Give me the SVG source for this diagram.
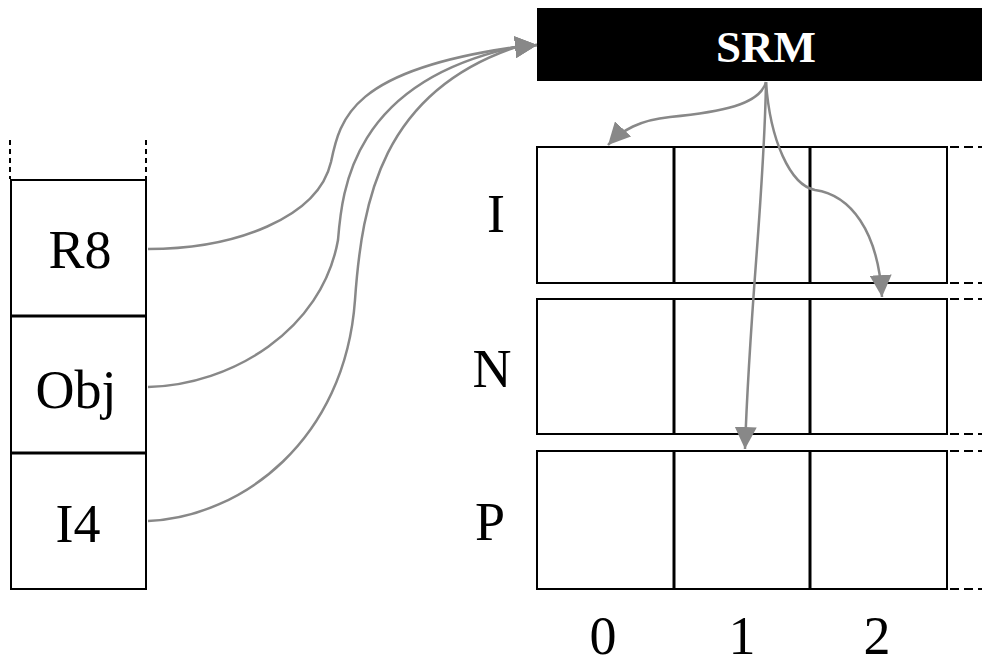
<svg xmlns="http://www.w3.org/2000/svg" width="982" height="666" viewBox="0 0 982 666">
  <style>
    .cell { fill: #fff; stroke: #000; stroke-width: 2; }
    .sep { stroke: #000; stroke-width: 3; }
    .dash { stroke: #000; stroke-width: 2; stroke-dasharray: 9 5; fill: none; }
    .vdash { stroke: #000; stroke-width: 2; stroke-dasharray: 5 4; fill: none; }
    .lbl { font-family: "Liberation Serif", "Times New Roman", serif; font-size: 54px; fill: #000; text-anchor: middle; }
    .head { font-family: "Liberation Serif", "Times New Roman", serif; font-size: 45px; font-weight: bold; fill: #fff; text-anchor: middle; }
    .conn { fill: none; stroke: #888; stroke-width: 2.5; }
  </style>
  <defs>
    <marker id="arrow" markerUnits="userSpaceOnUse" markerWidth="22" markerHeight="22" viewBox="0 0 22 22" refX="22" refY="11" orient="auto">
      <path d="M0,0 L22,11 L0,22 z" fill="#888"/>
    </marker>
  </defs>

  <!-- operand stack -->
  <g id="stack">
    <line class="vdash" x1="10" y1="140" x2="10" y2="179"/>
    <line class="vdash" x1="146" y1="140" x2="146" y2="179"/>
    <g id="slot-r8">
      <rect class="cell" x="11" y="180" width="135" height="136"/>
      <text class="lbl" x="80" y="268">R8</text>
    </g>
    <g id="slot-obj">
      <rect class="cell" x="11" y="316" width="135" height="137"/>
      <text class="lbl" x="76" y="408">Obj</text>
    </g>
    <g id="slot-i4">
      <rect class="cell" x="11" y="453" width="135" height="136"/>
      <text class="lbl" x="78" y="542">I4</text>
    </g>
    <line class="sep" x1="11" y1="316" x2="146" y2="316"/>
    <line class="sep" x1="11" y1="453" x2="146" y2="453"/>
  </g>

  <!-- SRM header -->
  <g id="srm">
    <rect x="537" y="8" width="445" height="73" fill="#000"/>
    <text class="head" x="766" y="62">SRM</text>
  </g>

  <!-- register table -->
  <g id="table">
    <g id="row-i">
      <rect class="cell" x="537" y="147" width="410" height="136"/>
      <text class="lbl" x="496" y="232">I</text>
    </g>
    <g id="row-n">
      <rect class="cell" x="537" y="299" width="410" height="135"/>
      <text class="lbl" x="492" y="387">N</text>
    </g>
    <g id="row-p">
      <rect class="cell" x="537" y="451" width="410" height="138"/>
      <text class="lbl" x="490" y="540">P</text>
    </g>
    <g id="columns">
      <line class="sep" x1="674" y1="147" x2="674" y2="283"/>
      <line class="sep" x1="810" y1="147" x2="810" y2="283"/>
      <line class="sep" x1="674" y1="299" x2="674" y2="434"/>
      <line class="sep" x1="810" y1="299" x2="810" y2="434"/>
      <line class="sep" x1="674" y1="451" x2="674" y2="589"/>
      <line class="sep" x1="810" y1="451" x2="810" y2="589"/>
    </g>
    <g id="continuation">
      <line class="dash" x1="950" y1="147" x2="982" y2="147"/>
      <line class="dash" x1="950" y1="283" x2="982" y2="283"/>
      <line class="dash" x1="950" y1="299" x2="982" y2="299"/>
      <line class="dash" x1="950" y1="434" x2="982" y2="434"/>
      <line class="dash" x1="950" y1="451" x2="982" y2="451"/>
      <line class="dash" x1="950" y1="589" x2="982" y2="589"/>
    </g>
    <g id="indices">
      <text class="lbl" x="603" y="654">0</text>
      <text class="lbl" x="742" y="654">1</text>
      <text class="lbl" x="877" y="654">2</text>
    </g>
  </g>

  <!-- connectors -->
  <g id="connectors">
    <path class="conn" d="M148,249 C235,249 318,218 331,162 C340,118 352,70 516,47 L537,45" marker-end="url(#arrow)"/>
    <path class="conn" d="M148,387 C232,385 322,330 338,240 C342,190 352,82 516,47 L537,45" marker-end="url(#arrow)"/>
    <path class="conn" d="M148,521 C242,517 345,440 355,300 C362,200 382,92 516,47 L537,45" marker-end="url(#arrow)"/>
    <path class="conn" d="M766,82 C760,105 720,112 670,117 C640,120 622,130 608,145" marker-end="url(#arrow)"/>
    <path class="conn" d="M766,82 C764,200 750,300 745,449" marker-end="url(#arrow)"/>
    <path class="conn" d="M766,82 C770,140 790,185 815,190 C850,195 878,230 882,297" marker-end="url(#arrow)"/>
  </g>
</svg>
